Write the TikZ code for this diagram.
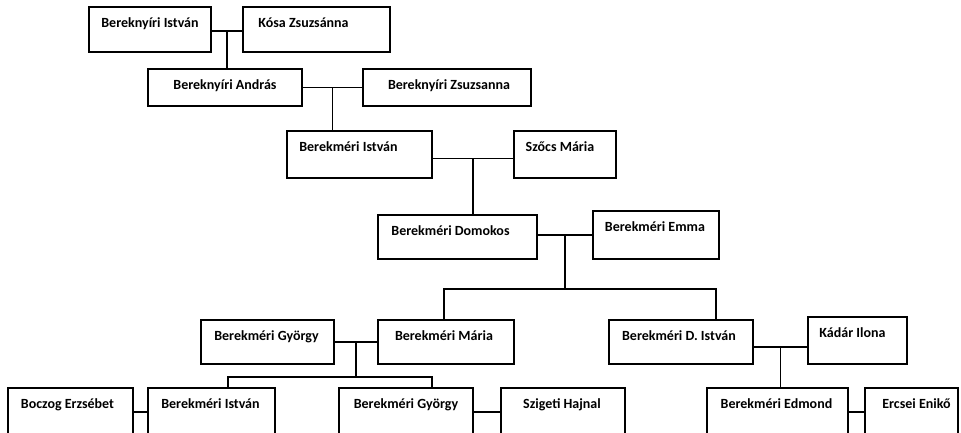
\documentclass[tikz,border=0pt]{standalone}
\usepackage{fontspec}
\setmainfont{Carlito}
\usetikzlibrary{calc}
\tikzset{
  person/.style 2 args = {draw, line width=1.7pt, inner sep=0pt, fill=white,
                          label={[font=\bfseries\fontsize{14}{16}\selectfont,
                                  anchor=base, xshift=#1, yshift=-21pt]north:#2}},
  link/.style          = {-, line width=1.5pt, black},
}

\begin{document}
\begin{tikzpicture}[x=1pt, y=-1pt]
    \clip (0,0) rectangle (961,432);
    \fill[white] (0,0) rectangle (961,432);

    % --- first generations ---
    \node[person={0pt}{Bereknyíri István}, minimum width=122pt, minimum height=45pt] (bist) at (150,29.5) {};
    \node[person={-13pt}{Kósa Zsuzsánna}, minimum width=147pt, minimum height=45pt] (kosa) at (316.5,29.5) {};
    \node[person={0pt}{Bereknyíri András}, minimum width=154pt, minimum height=37pt] (andras) at (225,87.5) {};
    \node[person={2pt}{Bereknyíri Zsuzsanna}, minimum width=168pt, minimum height=37pt] (zsuzsa) at (447,87.5) {};
    \node[person={-11pt}{Berekméri István}, minimum width=145pt, minimum height=47pt] (ist) at (359.5,154.5) {};
    \node[person={-5pt}{Szőcs Mária}, minimum width=102pt, minimum height=47pt] (szocs) at (565,154.5) {};
    \node[person={-7pt}{Berekméri Domokos}, minimum width=159pt, minimum height=44pt] (domokos) at (457.5,237) {};
    \node[person={-1pt}{Berekméri Emma}, minimum width=126pt, minimum height=48pt] (emma) at (656,235) {};

    % --- children of Domokos ---
    \node[person={-1pt}{Berekméri György}, minimum width=133pt, minimum height=44pt] (gyorgy) at (267.5,342) {};
    \node[person={-2pt}{Berekméri Mária}, minimum width=136pt, minimum height=44pt] (maria) at (446,342) {};
    \node[person={-2pt}{Berekméri D. István}, minimum width=144pt, minimum height=44pt] (distvan) at (681,342) {};
    \node[person={-5pt}{Kádár Ilona}, minimum width=99pt, minimum height=47pt] (kadar) at (857.5,340.5) {};

    % --- last row ---
    \node[person={-3pt}{Boczog Erzsébet}, minimum width=125pt, minimum height=48pt] (boczog) at (70.5,412) {};
    \node[person={-1pt}{Berekméri István}, minimum width=127pt, minimum height=48pt] (istvan) at (211.5,412) {};
    \node[person={0pt}{Berekméri György}, minimum width=134pt, minimum height=48pt] (gyorgyb) at (406,412) {};
    \node[person={-1pt}{Szigeti Hajnal}, minimum width=124pt, minimum height=48pt] (szigeti) at (563,412) {};
    \node[person={-1pt}{Berekméri Edmond}, minimum width=141pt, minimum height=48pt] (edmond) at (777.5,412) {};
    \node[person={5pt}{Ercsei Enikő}, minimum width=93pt, minimum height=48pt] (ercsei) at (911.5,412) {};

    % --- couples and descent ---
    \draw[link] ([yshift=-1.5pt]bist.east) -- ([yshift=-1.5pt]kosa.west);
    \coordinate (m1) at ($([yshift=-1.5pt]bist.east)!0.5!([yshift=-1.5pt]kosa.west)$);
    \draw[link] (m1) -- (m1 |- andras.north);

    \draw[link] (andras.east) -- (zsuzsa.west);
    \coordinate (m2) at ($(andras.east)!0.5!(zsuzsa.west)$);
    \draw[link] (m2) -- (m2 |- ist.north);

    \draw[link] ([yshift=-4pt]ist.east) -- ([yshift=-4pt]szocs.west);
    \coordinate (m3) at ($([yshift=-4pt]ist.east)!0.5!([yshift=-4pt]szocs.west)$);
    \draw[link] (m3) -- (m3 |- domokos.north);

    \draw[link] (domokos.east |- emma.west) -- (emma.west);
    \coordinate (m4) at ($(domokos.east |- emma.west)!0.5!(emma.west)$);
    \draw[link] (m4) -- ++(0,54) coordinate (b4);
    \draw[link] ([xshift=-2pt]maria.north) |- (b4) -| ([xshift=35pt]distvan.north);

    \draw[link] (gyorgy.east) -- (maria.west);
    \coordinate (m5) at ($(gyorgy.east)!0.5!(maria.west)$);
    \draw[link] (m5) -- ++(0,35) coordinate (b5);
    \draw[link] ([xshift=16.5pt]istvan.north) |- (b5) -| ([xshift=26pt]gyorgyb.north);

    \draw[link] ([yshift=-5pt]distvan.east) -- ([yshift=-5pt]distvan.east -| kadar.west);
    \coordinate (m6) at ($([yshift=-5pt]distvan.east)!0.5!([yshift=-5pt]distvan.east -| kadar.west)$);
    \draw[link] (m6) -- (m6 |- edmond.north);

    \draw[link] (boczog.east) -- (istvan.west);
    \draw[link] (gyorgyb.east) -- (szigeti.west);
    \draw[link] (edmond.east) -- (ercsei.west);
\end{tikzpicture}
\end{document}
